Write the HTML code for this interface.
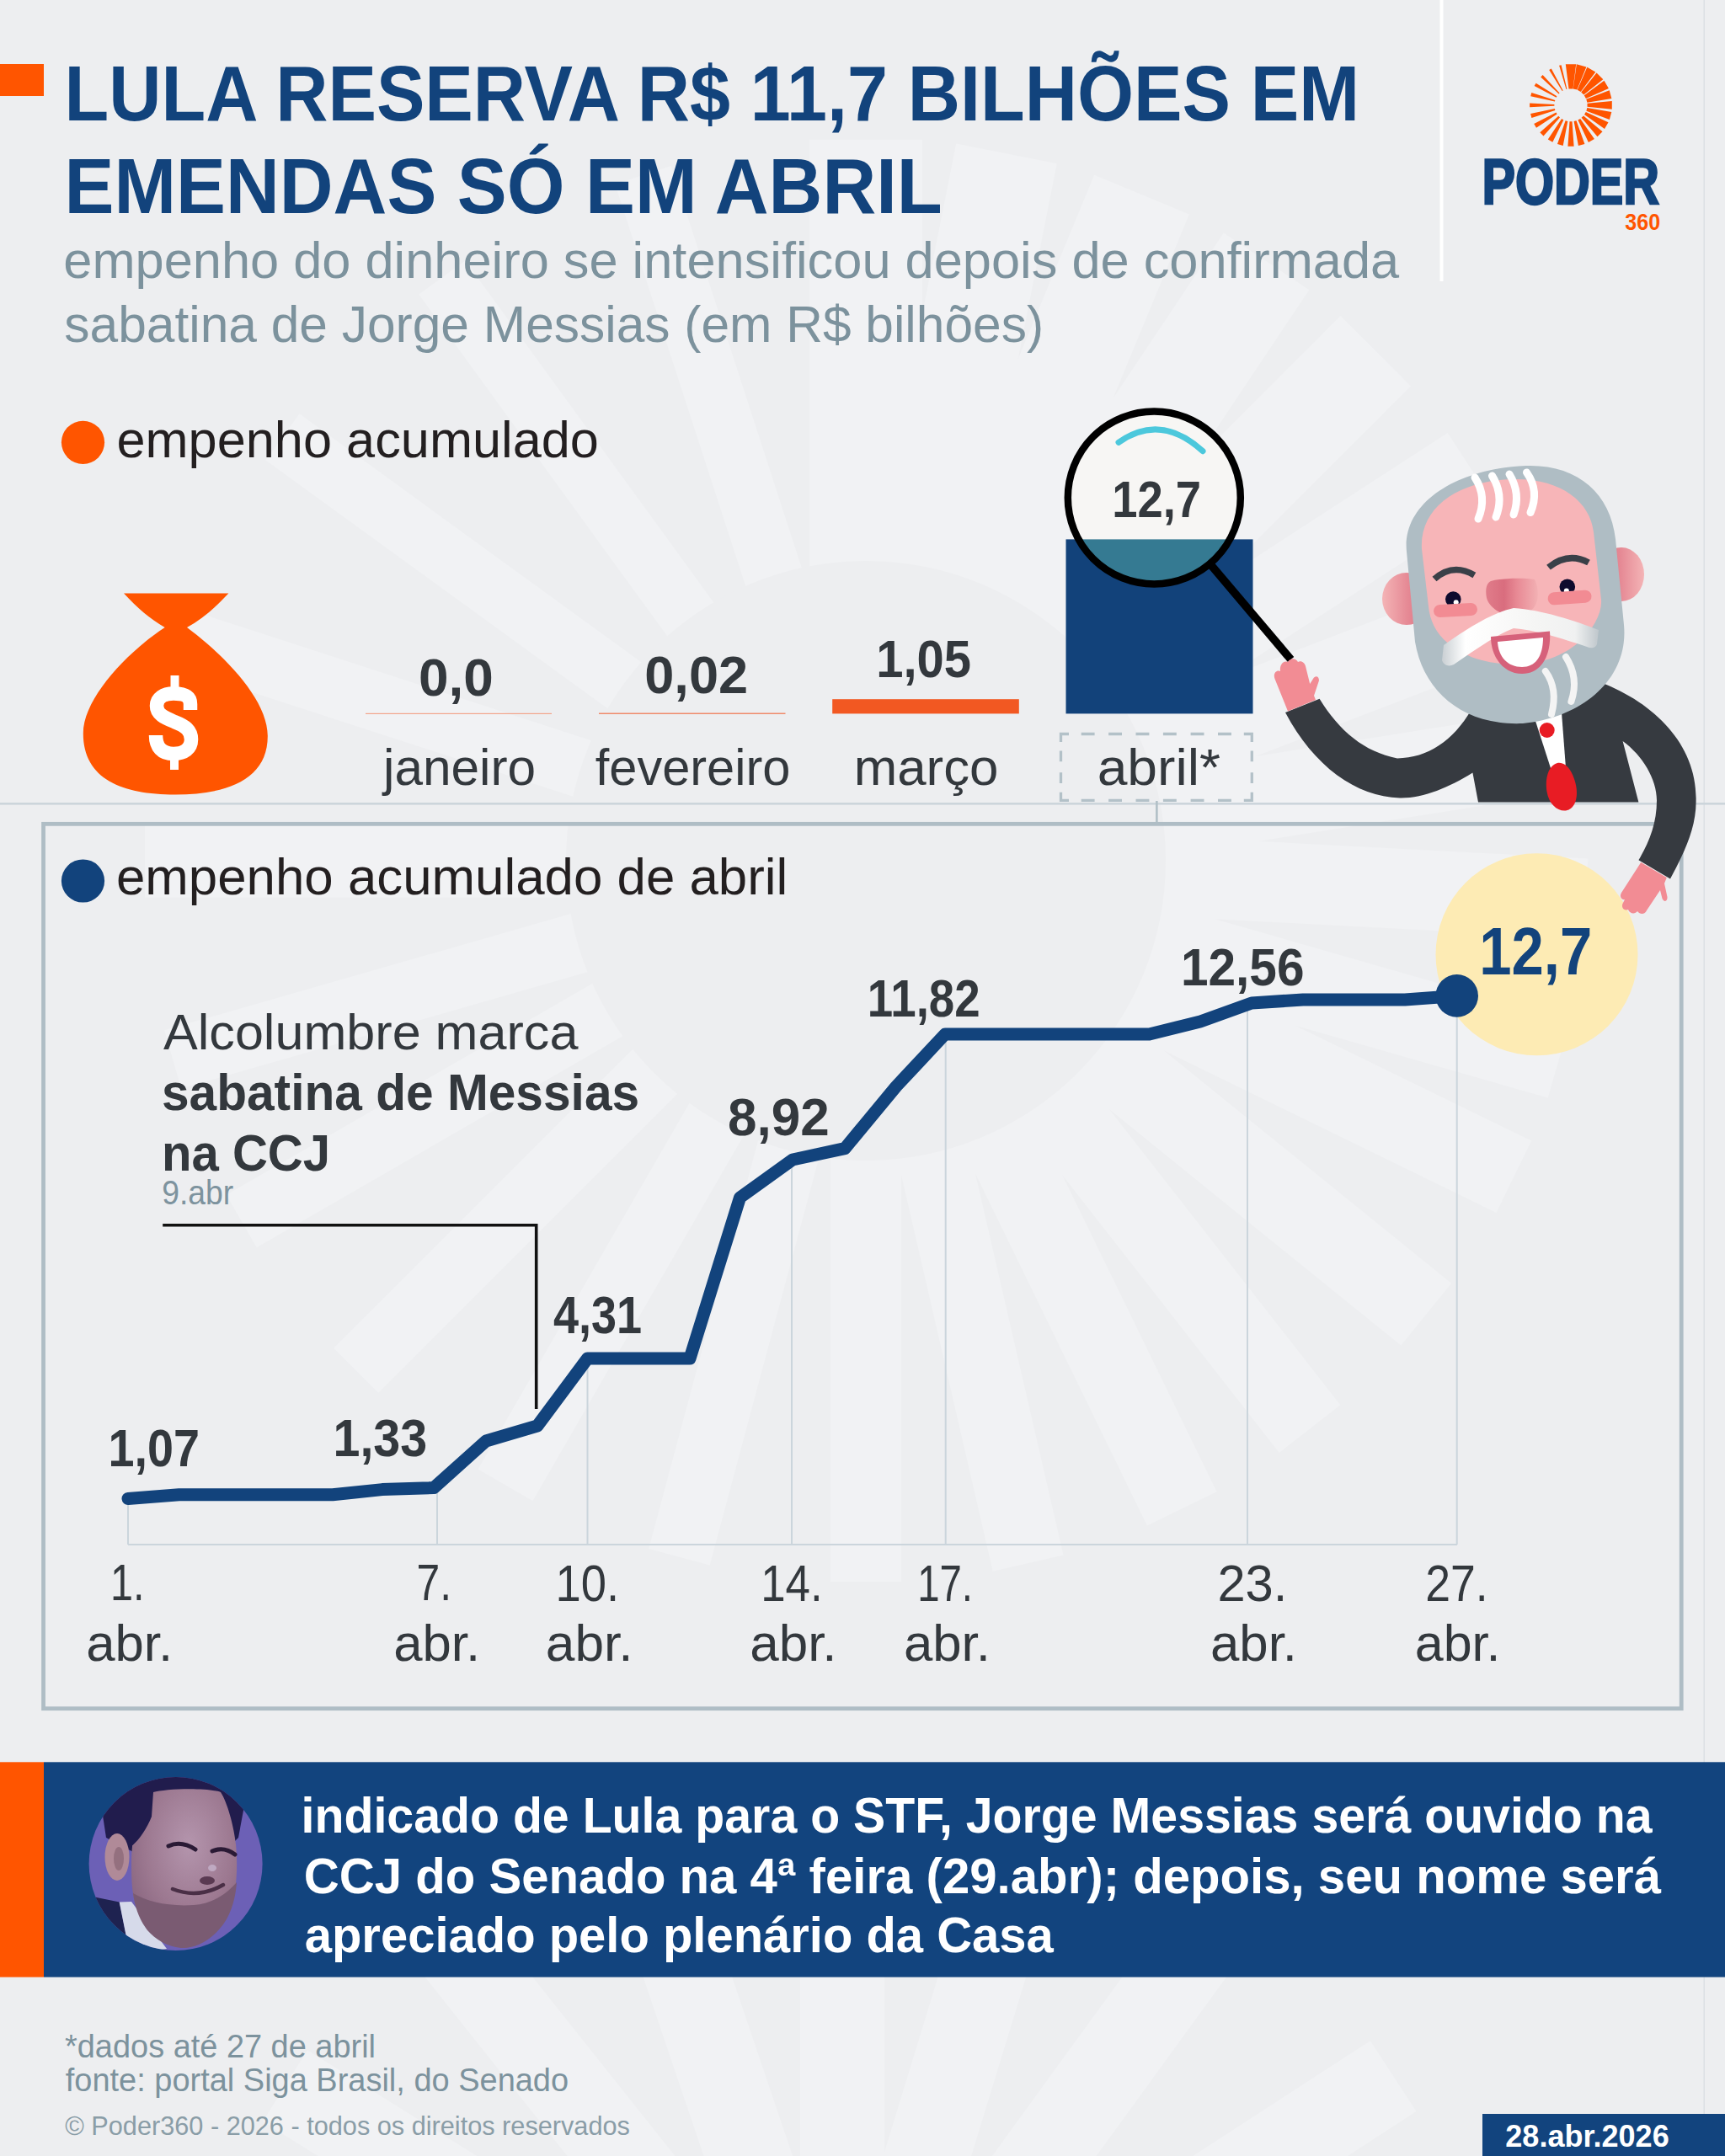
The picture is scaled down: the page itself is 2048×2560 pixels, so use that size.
<!DOCTYPE html>
<html><head><meta charset="utf-8">
<style>
html,body{margin:0;padding:0;background:#EDEEF0;}
body{width:2048px;height:2560px;overflow:hidden;}
svg{display:block;}
text{font-family:"Liberation Sans",sans-serif;}
</style></head>
<body>
<svg width="2048" height="2560" viewBox="0 0 2048 2560">
<rect x="0" y="0" width="2048" height="2560" fill="#EDEEF0"/>
<path d="M961.0,722.0 L961.0,166.0 L1095.0,166.0 L1095.0,722.0 Z M1026.7,715.9 L1135.2,170.5 L1254.8,194.3 L1146.4,739.7 Z M1086.4,721.5 L1299.2,207.8 L1411.9,254.5 L1199.2,768.2 Z M1144.0,738.7 L1452.8,276.4 L1554.3,344.2 L1245.4,806.4 Z M1198.4,768.1 L1591.6,375.0 L1675.0,458.4 L1281.9,851.6 Z M1252.4,816.7 L1718.7,513.9 L1773.1,597.7 L1306.8,900.5 Z M1290.2,867.8 L1809.2,668.6 L1845.1,761.9 L1326.0,961.2 Z M1316.5,925.7 L1865.6,838.7 L1881.3,937.5 L1332.1,1024.5 Z M1330.1,990.3 L1885.3,1019.4 L1880.3,1114.2 L1325.1,1085.1 Z M1329.5,1059.0 L1863.9,1212.3 L1837.7,1303.6 L1303.3,1150.4 Z M1318.5,1110.8 L1818.2,1354.6 L1776.5,1439.9 L1276.8,1196.2 Z M1291.0,1173.9 L1723.1,1523.8 L1663.3,1597.6 L1231.3,1247.7 Z M1248.9,1230.1 L1591.3,1668.2 L1518.8,1724.9 L1176.4,1286.7 Z M1200.9,1271.5 L1444.6,1771.2 L1361.9,1811.5 L1118.2,1311.8 Z M1137.4,1304.6 L1262.5,1846.4 L1178.7,1865.7 L1053.6,1324.0 Z M1070.0,1322.0 L1070.0,1878.0 L986.0,1878.0 L986.0,1322.0 Z M986.6,1321.5 L842.7,1858.5 L770.2,1839.1 L914.1,1302.1 Z M910.5,1300.6 L632.5,1782.1 L567.5,1744.6 L845.5,1263.1 Z M842.4,1260.6 L449.2,1653.8 L396.2,1600.8 L789.4,1207.6 Z M786.2,1203.2 L304.7,1481.2 L268.7,1418.8 L750.2,1140.8 Z M749.5,1139.3 L215.1,1292.6 L195.2,1223.3 L729.7,1070.1 Z M728.0,1065.5 L172.0,1065.5 L172.0,978.5 L728.0,978.5 Z M731.9,962.6 L203.1,790.8 L224.7,724.2 L753.5,896.0 Z M765.3,873.2 L315.5,546.4 L355.5,491.3 L805.3,818.2 Z M824.2,799.3 L497.3,349.5 L552.4,309.5 L879.2,759.3 Z M902.0,747.5 L730.2,218.7 L796.8,197.1 L968.6,725.9 Z" fill="#F1F2F4"/>
<path d="M761.5,2799.9 L312.0,2519.1 L365.0,2434.3 L814.5,2715.1 Z M805.2,2725.5 L475.3,2310.7 L553.6,2248.4 L883.5,2663.2 Z M872.5,2669.2 L702.6,2167.2 L797.3,2135.1 L967.2,2637.2 Z M950.0,2640.0 L950.0,2110.0 L1050.0,2110.0 L1050.0,2640.0 Z M1025.3,2636.3 L1180.2,2129.5 L1275.9,2158.7 L1120.9,2665.5 Z M1106.5,2658.4 L1418.0,2229.6 L1498.9,2288.4 L1187.4,2717.1 Z M1182.4,2711.9 L1626.9,2423.2 L1681.4,2507.1 L1236.9,2795.8 Z" fill="#F1F2F4"/>
<circle cx="1028" cy="1022" r="356" fill="#EDEEF0"/>
<rect x="2022.5" y="0" width="1.5" height="2560" fill="#DCE0E4"/>
<rect x="0" y="76" width="52" height="38" fill="#FF5500"/>
<text id="t1" x="76.57" y="142.60" font-size="92" font-weight="bold" fill="#12437C" textLength="1537.62" lengthAdjust="spacingAndGlyphs">LULA RESERVA R$ 11,7 BILHÕES EM</text>
<text id="t2" x="76.58" y="253.00" font-size="92" font-weight="bold" fill="#12437C" textLength="1042.10" lengthAdjust="spacingAndGlyphs">EMENDAS SÓ EM ABRIL</text>
<text id="sub1" x="75.35" y="330.00" font-size="61" fill="#7C929D" textLength="1585.79" lengthAdjust="spacingAndGlyphs">empenho do dinheiro se intensificou depois de confirmada</text>
<text id="sub2" x="76.34" y="406.00" font-size="61" fill="#7C929D" textLength="1162.70" lengthAdjust="spacingAndGlyphs">sabatina de Jorge Messias (em R$ bilhões)</text>
<rect x="1709.5" y="0" width="4" height="334" fill="#FFFFFF"/>
<g id="logo"><path d="M1862.5,105.4 L1858.8,76.2 L1871.2,76.2 L1867.5,105.4 Z M1867.7,105.4 L1871.8,76.3 L1883.4,79.4 L1872.3,106.6 Z M1872.7,106.8 L1884.3,79.8 L1894.3,85.5 L1876.7,109.1 Z M1877.2,109.5 L1895.5,86.5 L1903.3,94.3 L1880.3,112.6 Z M1880.8,113.2 L1904.5,95.8 L1909.9,105.1 L1882.9,116.9 Z M1883.3,117.8 L1910.7,107.2 L1913.4,117.1 L1884.4,121.7 Z M1884.5,122.8 L1913.8,119.9 L1913.8,129.7 L1884.5,126.8 Z M1884.3,128.0 L1913.3,132.9 L1910.9,142.0 L1883.4,131.7 Z M1882.8,133.0 L1909.5,145.3 L1905.0,153.1 L1881.0,136.1 Z M1880.0,137.4 L1902.5,156.3 L1896.5,162.3 L1877.6,139.8 Z M1876.2,140.9 L1892.9,165.1 L1885.9,169.1 L1873.4,142.5 Z M1871.5,143.3 L1881.4,171.0 L1873.9,173.0 L1868.6,144.1 Z M1866.5,144.3 L1868.6,173.7 L1861.4,173.7 L1863.5,144.3 Z M1861.3,144.0 L1855.7,172.9 L1849.0,171.1 L1858.6,143.3 Z M1856.3,142.4 L1843.3,168.7 L1837.8,165.5 L1854.1,141.1 Z M1852.0,139.5 L1832.5,161.5 L1828.3,157.3 L1850.3,137.8 Z M1848.6,135.5 L1824.0,151.7 L1821.2,146.9 L1847.5,133.6 Z M1846.4,130.9 L1818.4,139.9 L1817.1,135.0 L1845.8,128.9 Z M1845.4,125.7 L1816.1,127.2 L1816.1,122.4 L1845.4,123.9 Z M1845.9,120.6 L1817.2,114.2 L1818.3,110.1 L1846.3,118.9 Z M1847.7,115.7 L1821.6,102.0 L1823.6,98.7 L1848.4,114.3 Z M1850.7,111.4 L1829.2,91.4 L1831.6,89.0 L1851.6,110.5 Z M1854.7,108.1 L1839.2,83.1 L1841.8,81.6 L1855.7,107.5 Z M1859.4,106.0 L1851.1,77.8 L1853.6,77.2 L1860.4,105.7 Z" fill="#FF5500"/></g>
<text id="poder" x="1759.40" y="241.70" font-size="75.5" font-weight="bold" fill="#12437C" stroke="#12437C" stroke-width="2.6" stroke-linejoin="miter" textLength="210.70" lengthAdjust="spacingAndGlyphs">PODER</text>
<text id="p360" x="1929.36" y="272.80" font-size="27.6" font-weight="bold" fill="#FF5500" textLength="41.72" lengthAdjust="spacingAndGlyphs">360</text>
<circle cx="98.5" cy="525.3" r="25.6" fill="#FF5500"/>
<text id="leg1" x="138.46" y="542.90" font-size="62" fill="#231F20" textLength="572.46" lengthAdjust="spacingAndGlyphs">empenho acumulado</text>
<path d="M147,704.6 L271.4,704.6 C255,722 240,735 222,745 C265,777 318,830 317.8,874 C317.8,925 271,943.5 208,943.5 C145,943.5 98.8,925 98.8,871 C98.5,830 150,775 195.7,745 C178,735 163,722 147,704.6 Z" fill="#FF5500"/>
<path d="M226,843 L226,836 C226,826 218,823.5 206,823.5 C194,823.5 186,829 186,838 C186,848 195,852 207,857 C220,862 227,867 227,878 C227,889 219,895 206,895 C192,895 185,887 185,873" fill="none" stroke="#FFFFFF" stroke-width="16.5"/>
<rect x="202.5" y="802" width="10" height="14" fill="#FFFFFF"/>
<rect x="202" y="900" width="10" height="14" fill="#FFFFFF"/>
<text id="v00" x="497.03" y="826.00" font-size="63" font-weight="bold" fill="#33383D" textLength="88.87" lengthAdjust="spacingAndGlyphs">0,0</text>
<text id="v002" x="765.26" y="822.60" font-size="63" font-weight="bold" fill="#33383D" textLength="122.86" lengthAdjust="spacingAndGlyphs">0,02</text>
<text id="v105" x="1040.16" y="804.20" font-size="63" font-weight="bold" fill="#33383D" textLength="112.98" lengthAdjust="spacingAndGlyphs">1,05</text>
<rect x="434" y="846.8" width="221" height="1.2" fill="#F3A58A"/>
<rect x="711" y="846.5" width="221.5" height="1.5" fill="#F08A6A"/>
<rect x="988.2" y="830.2" width="221.6" height="17.2" fill="#F25822"/>
<rect x="1265.5" y="640.4" width="222" height="207" fill="#12427A"/>
<text id="jan" x="455.07" y="931.60" font-size="61" fill="#33383D" textLength="181.11" lengthAdjust="spacingAndGlyphs">janeiro</text>
<text id="fev" x="706.75" y="931.60" font-size="61" fill="#33383D" textLength="231.65" lengthAdjust="spacingAndGlyphs">fevereiro</text>
<text id="mar" x="1013.65" y="931.60" font-size="61" fill="#33383D" textLength="171.82" lengthAdjust="spacingAndGlyphs">março</text>
<text id="abr" x="1302.68" y="931.60" font-size="61" fill="#33383D" textLength="146.30" lengthAdjust="spacingAndGlyphs">abril*</text>
<path d="M1259.5,881.0 V871.5 H1269.0 M1476.8,871.5 H1486.3 V881.0 M1259.5,940.8 V950.3 H1269.0 M1476.8,950.3 H1486.3 V940.8 M1283.7,871.5 H1299.6 M1283.7,950.3 H1299.6 M1316.1,871.5 H1332.0 M1316.1,950.3 H1332.0 M1348.5,871.5 H1364.4 M1348.5,950.3 H1364.4 M1380.9,871.5 H1396.8 M1380.9,950.3 H1396.8 M1413.6,871.5 H1429.5 M1413.6,950.3 H1429.5 M1446.0,871.5 H1461.9 M1446.0,950.3 H1461.9 M1259.5,891.6 V904.2 M1486.3,891.6 V904.2 M1259.5,917.3 V929.9 M1486.3,917.3 V929.9" fill="none" stroke="#B3C1C8" stroke-width="3.3"/>
<rect x="0" y="953" width="2048" height="2.6" fill="#CCD5DB"/>
<rect x="1372" y="951" width="2.7" height="25" fill="#B3C1C8"/>
<clipPath id="lensclip"><circle cx="1370.3" cy="591" r="102"/></clipPath>
<circle cx="1370.3" cy="591" r="102" fill="#F7F6F4"/>
<rect x="1200" y="640.4" width="400" height="200" fill="#357A92" clip-path="url(#lensclip)"/>
<path d="M1328,525.3 Q1378,490 1428,535.7" fill="none" stroke="#4CC8DC" stroke-width="7" stroke-linecap="round"/>
<text id="mag" x="1320.26" y="614.00" font-size="62" font-weight="bold" fill="#33383D" textLength="105.84" lengthAdjust="spacingAndGlyphs">12,7</text>
<circle cx="1370.3" cy="591" r="102.5" fill="none" stroke="#000" stroke-width="8.5"/>
<line x1="1437" y1="670" x2="1532.6" y2="783" stroke="#000" stroke-width="9.6"/>
<rect x="51.55" y="978.35" width="1944.65" height="1050.35" fill="none" stroke="#AFBDC5" stroke-width="4.8"/>
<circle cx="98.5" cy="1046" r="25.6" fill="#12437C"/>
<text id="leg2" x="137.98" y="1061.60" font-size="62" fill="#231F20" textLength="797.30" lengthAdjust="spacingAndGlyphs">empenho acumulado de abril</text>
<g stroke="#CBD5DC" stroke-width="2" fill="none">
<path d="M152,1834 H1730"/>
<path d="M152,1779 V1834"/>
<path d="M519,1766 V1834"/>
<path d="M697.5,1613 V1834"/>
<path d="M940,1377 V1834"/>
<path d="M1122.7,1228 V1834"/>
<path d="M1481,1189 V1834"/>
<path d="M1729.7,1182 V1834"/>
</g>
<circle cx="1824.5" cy="1133.3" r="120" fill="#FDEBB4"/>
<path d="M193.2,1454.8 H636.7 V1673" fill="none" stroke="#111" stroke-width="3.6"/>
<text id="an1" x="194.00" y="1246.00" font-size="60" fill="#33383D" textLength="492.40" lengthAdjust="spacingAndGlyphs">Alcolumbre marca</text>
<text id="an2" x="191.94" y="1318.40" font-size="61" font-weight="bold" fill="#33383D" textLength="567.19" lengthAdjust="spacingAndGlyphs">sabatina de Messias</text>
<text id="an3" x="191.95" y="1389.70" font-size="61" font-weight="bold" fill="#33383D" textLength="200.21" lengthAdjust="spacingAndGlyphs">na CCJ</text>
<text id="an4" x="192.23" y="1430.40" font-size="40" fill="#7D939E" textLength="85.07" lengthAdjust="spacingAndGlyphs">9.abr</text>
<polyline points="152,1779.5 212.6,1774.8 395,1774.8 453.8,1768.6 515,1766.6 577,1711 638,1693 697.5,1613 819,1613 878.5,1422 941,1377 1003,1363.7 1064,1290 1122,1228 1364.5,1228 1425,1213 1486,1191 1547,1187 1668,1187 1729.7,1182.4" fill="none" stroke="#12437C" stroke-width="15" stroke-linejoin="round" stroke-linecap="round"/>
<circle cx="1729.7" cy="1182.4" r="25.3" fill="#12437C"/>
<text id="l107" x="128.40" y="1740.50" font-size="63" font-weight="bold" fill="#33383D" textLength="108.50" lengthAdjust="spacingAndGlyphs">1,07</text>
<text id="l133" x="395.51" y="1728.50" font-size="63" font-weight="bold" fill="#33383D" textLength="111.72" lengthAdjust="spacingAndGlyphs">1,33</text>
<text id="l431" x="656.95" y="1582.60" font-size="63" font-weight="bold" fill="#33383D" textLength="105.15" lengthAdjust="spacingAndGlyphs">4,31</text>
<text id="l892" x="864.04" y="1348.00" font-size="63" font-weight="bold" fill="#33383D" textLength="120.65" lengthAdjust="spacingAndGlyphs">8,92</text>
<text id="l1182" x="1029.80" y="1206.80" font-size="63" font-weight="bold" fill="#33383D" textLength="133.90" lengthAdjust="spacingAndGlyphs">11,82</text>
<text id="l1256" x="1401.91" y="1170.00" font-size="63" font-weight="bold" fill="#33383D" textLength="146.58" lengthAdjust="spacingAndGlyphs">12,56</text>
<text id="big127" x="1756.20" y="1157.40" font-size="80" font-weight="bold" fill="#12437C" textLength="134.00" lengthAdjust="spacingAndGlyphs">12,7</text>
<text id="x1" x="131.01" y="1900.30" font-size="62" fill="#33383D" textLength="40.57" lengthAdjust="spacingAndGlyphs">1.</text>
<text id="xa1" x="102.22" y="1971.80" font-size="62" fill="#33383D" textLength="102.94" lengthAdjust="spacingAndGlyphs">abr.</text>
<text id="x7" x="494.56" y="1900.30" font-size="62" fill="#33383D" textLength="41.53" lengthAdjust="spacingAndGlyphs">7.</text>
<text id="xa7" x="467.22" y="1971.80" font-size="62" fill="#33383D" textLength="102.94" lengthAdjust="spacingAndGlyphs">abr.</text>
<text id="x10" x="659.61" y="1900.60" font-size="62" fill="#33383D" textLength="75.61" lengthAdjust="spacingAndGlyphs">10.</text>
<text id="xa10" x="647.81" y="1972.00" font-size="62" fill="#33383D" textLength="103.81" lengthAdjust="spacingAndGlyphs">abr.</text>
<text id="x14" x="903.16" y="1900.60" font-size="62" fill="#33383D" textLength="73.46" lengthAdjust="spacingAndGlyphs">14.</text>
<text id="xa14" x="890.22" y="1972.00" font-size="62" fill="#33383D" textLength="103.38" lengthAdjust="spacingAndGlyphs">abr.</text>
<text id="x17" x="1089.13" y="1900.60" font-size="62" fill="#33383D" textLength="65.91" lengthAdjust="spacingAndGlyphs">17.</text>
<text id="xa17" x="1072.88" y="1972.00" font-size="62" fill="#33383D" textLength="103.03" lengthAdjust="spacingAndGlyphs">abr.</text>
<text id="x23" x="1445.41" y="1900.60" font-size="62" fill="#33383D" textLength="82.93" lengthAdjust="spacingAndGlyphs">23.</text>
<text id="xa23" x="1436.98" y="1972.00" font-size="62" fill="#33383D" textLength="103.03" lengthAdjust="spacingAndGlyphs">abr.</text>
<text id="x27" x="1692.22" y="1900.60" font-size="62" fill="#33383D" textLength="74.49" lengthAdjust="spacingAndGlyphs">27.</text>
<text id="xa27" x="1679.72" y="1972.00" font-size="62" fill="#33383D" textLength="101.70" lengthAdjust="spacingAndGlyphs">abr.</text>
<g id="lula">
<defs>
<linearGradient id="gnose" x1="0" y1="0" x2="1" y2="0">
<stop offset="0" stop-color="#E07C8A"/><stop offset="0.35" stop-color="#D96D7E"/><stop offset="0.6" stop-color="#E88A95"/><stop offset="1" stop-color="#F2B0B3"/></linearGradient>
<linearGradient id="gearL" x1="0" y1="0" x2="1" y2="0">
<stop offset="0" stop-color="#F4B4B6"/><stop offset="0.5" stop-color="#E68B96"/><stop offset="1" stop-color="#D96A7C"/></linearGradient>
<linearGradient id="gearR" x1="0" y1="0" x2="1" y2="0">
<stop offset="0" stop-color="#D96A7C"/><stop offset="0.5" stop-color="#E68B96"/><stop offset="1" stop-color="#F4B4B6"/></linearGradient>
<linearGradient id="gmus" gradientUnits="userSpaceOnUse" x1="1712" y1="0" x2="1898" y2="0">
<stop offset="0" stop-color="#C9CFD3"/><stop offset="0.15" stop-color="#FFFFFF"/><stop offset="0.6" stop-color="#F5F5F4"/><stop offset="0.85" stop-color="#F0F1F1"/><stop offset="1" stop-color="#BFC7CC"/></linearGradient>
<linearGradient id="ghair" x1="0" y1="0" x2="0" y2="1">
<stop offset="0" stop-color="#FFFFFF" stop-opacity="0.3"/><stop offset="0.25" stop-color="#FFFFFF"/><stop offset="1" stop-color="#FFFFFF"/></linearGradient>
</defs>

<!-- body -->
<path d="M1746.8,842.8 C1790,822 1860,805 1900.9,810.4 C1965,835 2015,885 2013.6,950.3 C2014,985 1998,1015 1983,1043.5 L1945.4,1021.3 C1958,1000 1967,978 1967,950.3 C1967,925 1950,897 1926.6,880 L1945.4,952.4 L1755,952.4 L1748.4,917.5 C1720,935 1690,948 1662,947.5 C1610,946 1560,910 1526,846 L1566.6,829.8 C1590,868 1620,893 1659,900.4 C1695,900 1725,880 1746.8,842.8 Z" fill="#363A40"/>
<!-- shirt -->
<path d="M1821,850 L1854,846 L1859,912 L1841,912 Z" fill="#FFFFFF"/>
<circle cx="1836.7" cy="867" r="9" fill="#E81C24"/>
<path d="M1849,906 C1838,909 1834,925 1836.5,940 C1839,955 1849,963.5 1859,962.5 C1869,961 1873.5,949 1871.5,935 C1869,920 1861,904 1849,906 Z" fill="#E81C24"/>
<!-- left hand -->
<path d="M1529,844.4 L1513.5,806 C1511,799 1516,795 1520,797 C1519,789 1524,784 1529,786 C1532,781 1538,781 1541,786 C1545,784 1549,787 1550,791 L1555.2,812 L1559,806 C1561,802 1566,802 1566,808 L1560,826 L1562,831 Z" fill="#F28C94"/>
<!-- right hand -->
<path d="M1948.2,1024 L1925,1060 C1922,1065 1926,1069 1929,1068 L1927,1072 C1924,1077 1928,1082 1933,1080 C1935,1085 1941,1086 1944,1082 C1947,1086 1953,1086 1955,1081 L1971,1057 L1973.5,1067 C1976,1072 1980,1070 1979.5,1065 L1976,1049 L1978.8,1042 Z" fill="#F28C94"/>
<!-- ears -->
<ellipse cx="1670" cy="711" rx="29" ry="31" fill="url(#gearL)"/>
<ellipse cx="1925" cy="682" rx="27" ry="32" fill="url(#gearR)"/>
<!-- head -->
<path d="M1812,553 C1872,551 1912,585 1918,640 L1928,742 C1934,805 1880,852 1808,859 C1738,862 1690,822 1680,762 L1670,655 C1664,597 1730,556 1812,553 Z" fill="#AFBDC4"/>
<!-- face -->
<path d="M1794,569 C1852,567 1888,595 1892,632 L1901,712 C1903,735 1878,772 1834,784 C1805,791 1768,791 1738,776 C1710,762 1698,742 1696,720 L1688,652 C1685,602 1732,571 1794,569 Z" fill="#F7B5B8"/>
<!-- hair strands -->
<g fill="none" stroke="#FFFFFF" stroke-width="9" stroke-linecap="round">
<path d="M1751,567 Q1766,590 1755,616"/>
<path d="M1771.5,565 Q1786,588 1776,614"/>
<path d="M1792,563 Q1806,586 1797,611"/>
<path d="M1812.5,561 Q1828,583 1817,608.6"/>
</g>
<!-- eyebrows -->
<g fill="none" stroke="#3A4048" stroke-width="7.5">
<path d="M1703,687.5 Q1725,668 1750.4,683"/>
<path d="M1838.5,673.6 Q1862,655 1886,668"/>
</g>
<!-- eyes -->
<circle cx="1725.3" cy="711.6" r="9.3" fill="#0E0B2E"/>
<circle cx="1728.7" cy="715.3" r="3" fill="#FFFFFF"/>
<circle cx="1860.8" cy="696.8" r="9.3" fill="#0E0B2E"/>
<circle cx="1859.8" cy="701.4" r="3" fill="#FFFFFF"/>
<!-- blush -->
<rect x="1702" y="717" width="52" height="15" rx="7.5" fill="#F28B93" transform="rotate(-3 1728 724)"/>
<rect x="1837.6" y="702" width="52" height="15" rx="7.5" fill="#F28B93" transform="rotate(-4 1863 710)"/>
<!-- nose -->
<path d="M1770,690 C1785,686 1810,686 1822,688 C1828,700 1828,720 1815,727 C1805,731 1800,734 1796,733 C1785,731 1768,722 1765,710 C1763,700 1765,692 1770,690 Z" fill="url(#gnose)"/>
<!-- mustache -->
<path d="M1714,766 C1740,748 1770,728 1797,722 C1830,724 1870,737 1898,748 L1896,765 C1894,770 1889,770 1884,768 C1860,760 1825,748 1797,746 C1780,752 1750,772 1726,789 C1720,792 1714,790 1712,784 Z" fill="url(#gmus)"/>
<!-- mouth -->
<path d="M1770,756 L1840,749.6 C1842,778 1830,800 1807,800 C1785,800 1770,780 1770,756 Z" fill="#D6617A"/>
<path d="M1778,762 L1832,757 C1832,778 1824,792 1807,792 C1790,792 1779,780 1778,762 Z" fill="#FFFFFF"/>
<!-- beard strands -->
<g fill="none" stroke="#F4F4F4" stroke-width="8" stroke-linecap="round">
<path d="M1859,780 Q1875,805 1865.4,833"/>
<path d="M1834.8,797 Q1850,818 1842,848"/>
</g>
</g>


<rect x="0" y="2092.3" width="52" height="255.3" fill="#FF5500"/>
<rect x="52" y="2092.3" width="1996" height="255.3" fill="#12447E"/>
<g id="photo">
<defs>
<clipPath id="photoclip"><circle cx="208.6" cy="2213" r="103"/></clipPath>
<radialGradient id="gface" cx="0.55" cy="0.35" r="0.7">
<stop offset="0" stop-color="#B495AD"/><stop offset="0.6" stop-color="#9C7890"/><stop offset="1" stop-color="#85627C"/></radialGradient>
</defs>
<circle cx="208.6" cy="2213" r="103" fill="#6C60B6"/>
<g clip-path="url(#photoclip)">
<path d="M100,2250 L141.7,2258.4 L150,2300 L172,2325 L100,2325 Z" fill="#1E2250"/>
<path d="M141.7,2258.4 L156,2258 L198,2314 L172,2318 L150,2300 Z" fill="#D6DAEA"/>
<path d="M126,2182 L112,2090 L300,2090 L283,2182 L270,2195 L160,2200 Z" fill="#211C4D"/>
<path d="M182,2128 C195,2124 245,2122 262,2128 C270,2140 278,2170 280,2190 C282,2210 282,2240 275,2262 C268,2282 250,2305 225,2312 C210,2314 198,2310 188,2300 C178,2292 168,2280 162,2265 C157,2250 156,2235 156,2215 C156,2200 157,2195 157,2191.4 C165,2185 175,2170 180,2157 Z" fill="url(#gface)"/>
<ellipse cx="139" cy="2205" rx="14.5" ry="28" fill="#B08A98"/>
<ellipse cx="141" cy="2207" rx="6" ry="14" fill="#94707F"/>

<path d="M158,2248 C175,2258 200,2264 230,2262 C252,2260 268,2250 281,2235 C280,2250 276,2270 265,2285 C250,2305 232,2314 215,2313 C198,2311 185,2303 175,2292 C166,2280 160,2265 158,2248 Z" fill="#7A5B72"/>
<path d="M205,2243 Q235,2255 265,2238" fill="none" stroke="#4A2F46" stroke-width="4.5" stroke-linecap="round"/>
<path d="M200,2192 Q215,2185 232,2196" fill="none" stroke="#2A1A35" stroke-width="5" stroke-linecap="round"/>
<path d="M252,2198 Q266,2192 279,2202" fill="none" stroke="#2A1A35" stroke-width="5" stroke-linecap="round"/>
<ellipse cx="246" cy="2233" rx="9" ry="5" fill="#5A3A52"/>
<ellipse cx="252" cy="2218" rx="5" ry="4" fill="#BFA9C2"/>
</g>
</g>
<text id="b1" x="357.51" y="2176.00" font-size="60" font-weight="bold" fill="#FFFFFF" textLength="1604.10" lengthAdjust="spacingAndGlyphs">indicado de Lula para o STF, Jorge Messias será ouvido na</text>
<text id="b2" x="360.71" y="2248.20" font-size="60" font-weight="bold" fill="#FFFFFF" textLength="1611.39" lengthAdjust="spacingAndGlyphs">CCJ do Senado na 4ª feira (29.abr); depois, seu nome será</text>
<text id="b3" x="361.71" y="2318.00" font-size="60" font-weight="bold" fill="#FFFFFF" textLength="889.09" lengthAdjust="spacingAndGlyphs">apreciado pelo plenário da Casa</text>
<text id="f1" x="77.02" y="2442.60" font-size="38" fill="#7C929D" textLength="368.98" lengthAdjust="spacingAndGlyphs">*dados até 27 de abril</text>
<text id="f2" x="77.72" y="2483.20" font-size="38" fill="#7C929D" textLength="597.39" lengthAdjust="spacingAndGlyphs">fonte: portal Siga Brasil, do Senado</text>
<text id="f3" x="77.17" y="2534.70" font-size="30.5" fill="#8A9DA7" textLength="670.75" lengthAdjust="spacingAndGlyphs">© Poder360 - 2026 - todos os direitos reservados</text>
<rect x="1760" y="2510" width="288" height="50" fill="#12447E"/>
<text id="date" x="1787.34" y="2548.90" font-size="37.6" font-weight="bold" fill="#FFFFFF" textLength="194.36" lengthAdjust="spacingAndGlyphs">28.abr.2026</text>
</svg>
</body></html>
